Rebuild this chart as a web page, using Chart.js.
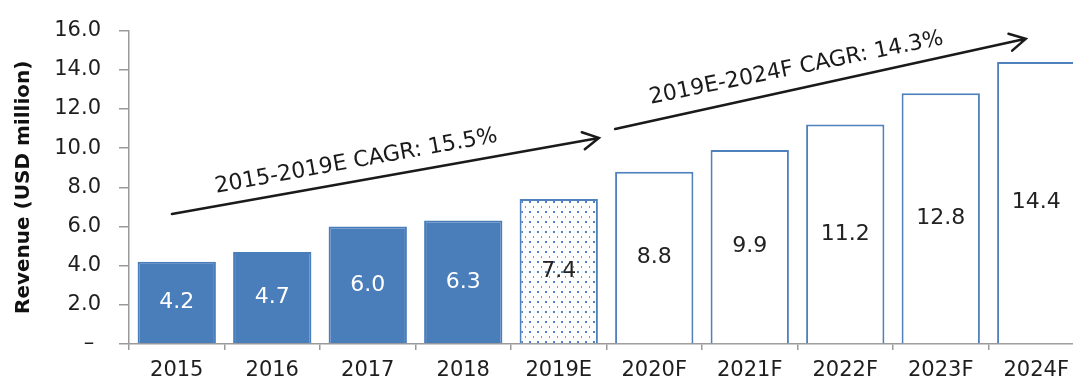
<!DOCTYPE html>
<html>
<head>
<meta charset="utf-8">
<script src="https://cdn.jsdelivr.net/npm/chart.js@4/dist/chart.umd.min.js"></script>
<style>
  html, body { margin: 0; padding: 0; background: #fff; overflow: hidden; }
  #wrap { width: 1084px; height: 383px; position: relative; }
</style>
</head>
<body>
<div id="wrap"><canvas id="revenueChart"></canvas></div>
<script>
const categories = ["2015", "2016", "2017", "2018", "2019E", "2020F", "2021F", "2022F", "2023F", "2024F"];
const revenue = [4.2, 4.7, 6.0, 6.3, 7.4, 8.8, 9.9, 11.2, 12.8, 14.4];
const yTickLabels = ["–", "2.0", "4.0", "6.0", "8.0", "10.0", "12.0", "14.0", "16.0"];
const cagrLabels = ["2015-2019E CAGR: 15.5%", "2019E-2024F CAGR: 14.3%"];
const actualYears = 4;     // first bars are reported figures
const estimateIdx = 4;     // 2019E gets the dotted fill

const FONT = '"DejaVu Sans", sans-serif';
const BLUE = "#4a7ebb";
const EDGE = "#4f81bd";

// small tile of dots for the estimate bar
function dotPattern() {
    const c = document.createElement("canvas");
    c.width = 8; c.height = 10;
    const g = c.getContext("2d");
    g.fillStyle = "#fff";
    g.fillRect(0, 0, 8, 10);
    g.fillStyle = "#4f82c8";
    g.fillRect(1, 1, 2, 2);
    g.fillStyle = "#6f99d2";
    g.fillRect(5, 6, 1, 2);
    return g.createPattern(c, "repeat");
}

const fills = revenue.map((v, i) => i < actualYears ? BLUE : (i === estimateIdx ? dotPattern() : "#fff"));
const edges = revenue.map((v, i) => i < actualYears ? BLUE : EDGE);

// arrows + rotated text, anchored in data units (category index, USD million)
const arrows = [
    { from: [-0.05, 6.64], to: [4.42, 10.52], label: 0, at: [1.89, 9.03], angle: -10.3 },
    { from: [4.59, 10.98], to: [8.89, 15.58], label: 1, at: [6.5, 13.79], angle: -11.5 }
];

const annotate = {
    id: "annotate",
    afterDatasetsDraw(chart) {
        const { ctx, scales: { x, y } } = chart;
        const meta = chart.getDatasetMeta(0);
        ctx.save();
        ctx.font = "22px " + FONT;
        ctx.textAlign = "center";
        ctx.textBaseline = "middle";
        meta.data.forEach((bar, i) => {
            ctx.fillStyle = i < actualYears ? "#fff" : "#222";
            ctx.fillText(revenue[i].toFixed(1), bar.x, (bar.y + bar.base) / 2);
        });

        ctx.strokeStyle = "#1a1a1a";
        ctx.lineWidth = 2.5;
        ctx.lineCap = "round";
        arrows.forEach(a => {
            const x0 = x.getPixelForValue(a.from[0]), y0 = y.getPixelForValue(a.from[1]);
            const x1 = x.getPixelForValue(a.to[0]), y1 = y.getPixelForValue(a.to[1]);
            const ang = Math.atan2(y1 - y0, x1 - x0);
            ctx.beginPath();
            ctx.moveTo(x0, y0);
            ctx.lineTo(x1, y1);
            const head = 18, spread = 0.5;
            ctx.moveTo(x1 - head * Math.cos(ang - spread), y1 - head * Math.sin(ang - spread));
            ctx.lineTo(x1, y1);
            ctx.lineTo(x1 - head * Math.cos(ang + spread), y1 - head * Math.sin(ang + spread));
            ctx.stroke();

            ctx.save();
            ctx.translate(x.getPixelForValue(a.at[0]), y.getPixelForValue(a.at[1]));
            ctx.rotate(a.angle * Math.PI / 180);
            ctx.font = "22px " + FONT;
            ctx.fillStyle = "#1a1a1a";
            ctx.textBaseline = "alphabetic";
            ctx.fillText(cagrLabels[a.label], 0, 0);
            ctx.restore();
        });
        ctx.restore();
    }
};

new Chart(document.getElementById("revenueChart"), {
    type: "bar",
    data: {
        labels: categories,
        datasets: [{
            data: revenue,
            backgroundColor: fills,
            borderColor: edges,
            borderWidth: 2,
            barPercentage: 0.82,
            categoryPercentage: 1
        }]
    },
    options: {
        responsive: true,
        maintainAspectRatio: false,
        animation: false,
        layout: { padding: { top: 26, right: 0, bottom: 0, left: 0 } },
        plugins: { legend: { display: false }, tooltip: { enabled: false } },
        scales: {
            x: {
                afterFit: s => { s.height = 39; },
                grid: { drawOnChartArea: false, offset: true, tickLength: 6, color: "#9a9a9a", lineWidth: 1.5 },
                border: { color: "#9a9a9a", width: 1.5 },
                ticks: { color: "#1e1e1e", font: { family: FONT, size: 21 }, padding: 8, maxRotation: 0, autoSkip: false }
            },
            y: {
                min: 0,
                max: 16,
                afterFit: s => { s.width = 129; },
                grid: { drawOnChartArea: false, tickLength: 10, color: "#9a9a9a", lineWidth: 1.5 },
                border: { color: "#9a9a9a", width: 1.5 },
                ticks: {
                    stepSize: 2,
                    color: "#1e1e1e",
                    padding: 18,
                    font: { family: FONT, size: 21 },
                    callback: (v, i) => yTickLabels[i] + (i === 0 ? " " : "")
                },
                title: {
                    display: true,
                    text: "Revenue (USD million)",
                    color: "#111",
                    font: { family: FONT, size: 20, weight: "bold" },
                    padding: { top: 12, bottom: 0 }
                }
            }
        }
    },
    plugins: [annotate]
});
</script>
</body>
</html>
